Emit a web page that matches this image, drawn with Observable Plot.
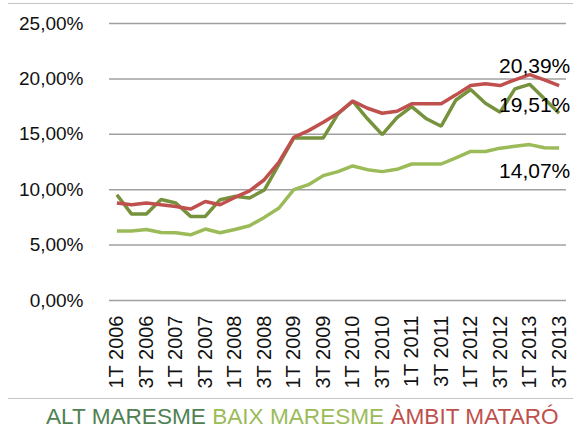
<!DOCTYPE html>
<html>
<head>
<meta charset="utf-8">
<script src="https://cdn.jsdelivr.net/npm/d3@7"></script>
<script src="https://cdn.jsdelivr.net/npm/@observablehq/plot@0.6"></script>
<style>
  body { margin: 0; background: #fff; font-family: "Liberation Sans", Arial, sans-serif; }
  #wrap { position: relative; width: 573px; height: 432px; overflow: hidden; }
  #chart { position: absolute; left: 0; top: 0; }
  .rule { position: absolute; left: 8px; right: 0; height: 0; border-top: 1.5px solid #c4c4c4; }
  #legend { position: absolute; left: 46px; top: 404px; font-size: 22.6px; line-height: 26px; white-space: nowrap; }
</style>
</head>
<body>
<div id="wrap">
  <div id="chart"></div>
  <div class="rule" style="top:3px"></div>
  <div class="rule" style="top:398px"></div>
  <div id="legend"></div>
</div>
<script>
const quarters = [
  "1T 2006","2T 2006","3T 2006","4T 2006",
  "1T 2007","2T 2007","3T 2007","4T 2007",
  "1T 2008","2T 2008","3T 2008","4T 2008",
  "1T 2009","2T 2009","3T 2009","4T 2009",
  "1T 2010","2T 2010","3T 2010","4T 2010",
  "1T 2011","2T 2011","3T 2011","4T 2011",
  "1T 2012","2T 2012","3T 2012","4T 2012",
  "1T 2013","2T 2013","3T 2013"
];
const xTickLabels = [
  "1T 2006","3T 2006","1T 2007","3T 2007","1T 2008","3T 2008","1T 2009","3T 2009",
  "1T 2010","3T 2010","1T 2011","3T 2011","1T 2012","3T 2012","1T 2013","3T 2013"
];
const yTicks = [0, 5, 10, 15, 20, 25];

const series = ["ALT MARESME", "BAIX MARESME", "ÀMBIT MATARÓ"];
const lineColors = ["#76923c", "#9bbb59", "#c0504d"];
const legendColors = ["#4f8152", "#9bbb59", "#c0504d"];

const altMaresme = [9.55, 7.8, 7.8, 9.12, 8.8, 7.59, 7.59, 9.1, 9.4, 9.25, 9.97, 12.3,
  14.67, 14.67, 14.67, 16.84, 18.0, 16.4, 14.97, 16.5, 17.5, 16.4, 15.73, 18.1,
  19.04, 17.8, 17.0, 19.1, 19.51, 18.2, 16.9];
const baixMaresme = [6.27, 6.27, 6.41, 6.14, 6.11, 5.93, 6.45, 6.11, 6.41, 6.75, 7.5, 8.35,
  10.0, 10.45, 11.27, 11.63, 12.14, 11.81, 11.63, 11.84, 12.32, 12.32, 12.32, 12.87,
  13.45, 13.45, 13.75, 13.92, 14.07, 13.78, 13.76];
const ambitMataro = [8.8, 8.64, 8.8, 8.64, 8.49, 8.25, 8.94, 8.64, 9.3, 9.9, 10.9, 12.5,
  14.73, 15.33, 16.09, 16.9, 18.0, 17.35, 16.9, 17.08, 17.75, 17.75, 17.75, 18.56,
  19.4, 19.56, 19.4, 19.92, 20.39, 19.92, 19.4];

const labelQuarter = "1T 2013";

const valuesBySeries = [altMaresme, baixMaresme, ambitMataro];
const data = series.flatMap((s, k) => quarters.map((q, i) => ({ q, v: valuesBySeries[k][i], s })));
const li = quarters.indexOf(labelQuarter);
const fmt = d => d.toFixed(2).replace(".", ",") + "%";

const font = '"Liberation Sans", Arial, sans-serif';
const labelMark = (arr, dy) => Plot.text([{ q: labelQuarter, v: arr[li] }], {
  x: "q", y: "v", text: d => fmt(d.v), dx: 5, dy, fontSize: 21, fill: "#000", textAnchor: "middle"
});

const chart = Plot.plot({
  width: 573,
  height: 398,
  marginTop: 23,
  marginBottom: 98,
  marginLeft: 109,
  marginRight: 7,
  style: { fontFamily: font, background: "transparent", color: "#111", overflow: "visible" },
  x: { type: "point", domain: quarters, padding: 0.5, round: false, label: null },
  y: { domain: [0, 25], label: null },
  color: { domain: series, range: lineColors },
  marks: [
    Plot.gridY(yTicks, { stroke: "#a0a0a0", strokeOpacity: 1, strokeWidth: 1.5 }),
    Plot.axisY(yTicks, { tickSize: 0, tickPadding: 26, fontSize: 19, tickFormat: fmt, label: null }),
    Plot.axisX(xTickLabels, { tickSize: 0, tickRotate: -90, tickPadding: 15, fontSize: 20, label: null }),
    Plot.line(data, { x: "q", y: "v", z: "s", stroke: "s", strokeWidth: 3.5, strokeLinejoin: "miter", strokeLinecap: "butt" }),
    labelMark(ambitMataro, -8),
    labelMark(altMaresme, 21),
    labelMark(baixMaresme, 27)
  ]
});
document.getElementById("chart").appendChild(chart);

const legend = document.getElementById("legend");
series.forEach((s, k) => {
  const span = document.createElement("span");
  span.textContent = s;
  span.style.color = legendColors[k];
  legend.appendChild(span);
  if (k < series.length - 1) legend.appendChild(document.createTextNode(" "));
});
</script>
</body>
</html>
